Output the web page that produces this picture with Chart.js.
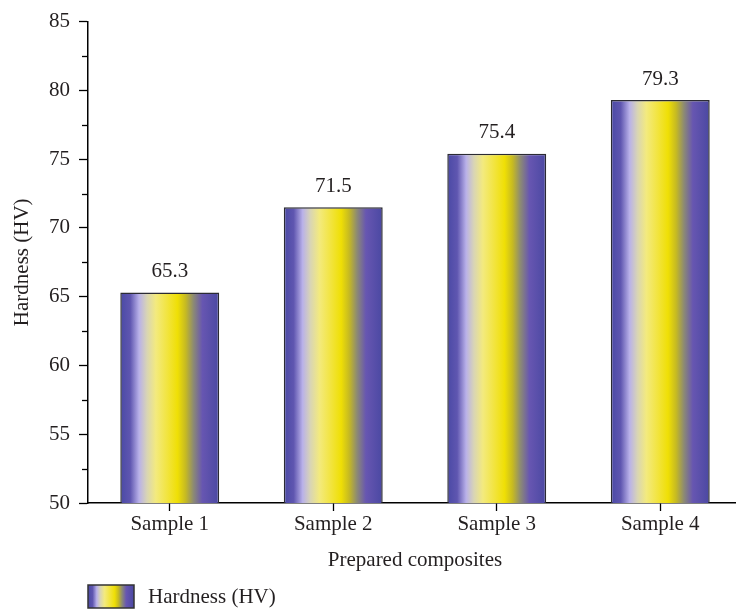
<!DOCTYPE html>
<html>
<head>
<meta charset="utf-8">
<script src="https://cdn.jsdelivr.net/npm/chart.js@4/dist/chart.umd.min.js"></script>
<style>
  html, body { margin: 0; padding: 0; background: #fff; overflow: hidden; }
</style>
</head>
<body>
<canvas id="hardnessChart" width="750" height="612"></canvas>
<script>
// data
var samples = ['Sample 1', 'Sample 2', 'Sample 3', 'Sample 4'];
var hardness = [65.3, 71.5, 75.4, 79.3];
var seriesLabel = 'Hardness (HV)';
var yTicks = [50, 55, 60, 65, 70, 75, 80, 85];

var serif = "'Liberation Serif', 'DejaVu Serif', serif";
var fontSize = 21;
var textColor = '#231f20';
var barPct = 0.605;

// blue -> lavender -> yellow -> olive -> purple, across each bar
var gradStops = [
  [0, '#4a49a5'], [0.1, '#5f56b0'], [0.19, '#b9b1e9'], [0.27, '#d9d5b4'],
  [0.36, '#f3ea7e'], [0.48, '#f2e43c'], [0.58, '#efdf05'], [0.66, '#c6ba22'],
  [0.74, '#8c8a74'], [0.83, '#6756b1'], [1, '#4a48a2']
];

function makeGrad(ctx, x0, x1) {
  var g = ctx.createLinearGradient(x0, 0, x1, 0);
  gradStops.forEach(function (s) { g.addColorStop(s[0], s[1]); });
  return g;
}

var ctx = document.getElementById('hardnessChart').getContext('2d');

var extras = {
  id: 'extras',
  afterDatasetsDraw: function (chart) {
    var c = chart.ctx;
    var meta = chart.getDatasetMeta(0);
    c.save();
    c.font = fontSize + 'px ' + serif;
    c.fillStyle = textColor;
    c.textAlign = 'center';
    c.textBaseline = 'middle';
    meta.data.forEach(function (el, i) {
      c.fillText(hardness[i].toFixed(1), el.x, el.y - 21);
    });
    c.restore();
  },
  afterDraw: function (chart) {
    var c = chart.ctx;
    var y = chart.scales.y;
    var a = chart.chartArea;
    c.save();
    // minor ticks on y
    c.strokeStyle = '#000';
    c.lineWidth = 1.3;
    for (var i = 0; i < yTicks.length - 1; i++) {
      var py = Math.round(y.getPixelForValue((yTicks[i] + yTicks[i + 1]) / 2)) + 0.5;
      c.beginPath();
      c.moveTo(a.left - 6, py);
      c.lineTo(a.left, py);
      c.stroke();
    }
    // legend
    var lx = a.left, ly = chart.height - 27, lw = 46, lh = 23;
    c.fillStyle = makeGrad(c, lx, lx + lw);
    c.fillRect(lx, ly, lw, lh);
    c.strokeStyle = '#333';
    c.lineWidth = 1.5;
    c.strokeRect(lx, ly, lw, lh);
    c.font = fontSize + 'px ' + serif;
    c.fillStyle = textColor;
    c.textAlign = 'left';
    c.textBaseline = 'middle';
    c.fillText(seriesLabel, lx + 60, ly + lh / 2 + 1);
    c.restore();
  }
};

var hardnessChart = new Chart(ctx, {
  type: 'bar',
  data: {
    labels: samples,
    datasets: [{
      label: seriesLabel,
      data: hardness,
      backgroundColor: function (context) {
        var xs = context.chart.scales.x;
        if (!xs || context.type !== 'data') return '#5a52ad';
        var cx = xs.getPixelForValue(context.dataIndex);
        var half = xs.width / samples.length * barPct / 2;
        if (!isFinite(cx) || !isFinite(half)) return '#5a52ad';
        return makeGrad(context.chart.ctx, cx - half, cx + half);
      },
      borderColor: '#2b2b33',
      borderWidth: 1.5,
      borderSkipped: 'bottom',
      categoryPercentage: 1,
      barPercentage: barPct
    }]
  },
  options: {
    responsive: false,
    animation: false,
    layout: { padding: { top: 19, right: 8, left: 0, bottom: 0 } },
    plugins: {
      legend: { display: false },
      tooltip: { enabled: false }
    },
    scales: {
      x: {
        offset: true,
        grid: { offset: false, drawOnChartArea: false, tickLength: 8, tickColor: '#000', tickWidth: 1.3 },
        border: { color: '#000', width: 1.5 },
        ticks: { color: textColor, font: { family: serif, size: fontSize }, padding: 1 },
        title: {
          display: true, text: 'Prepared composites', color: textColor,
          font: { family: serif, size: fontSize }, padding: { top: 0, bottom: 39 }
        },
        afterFit: function (scale) { scale.height = 109; }
      },
      y: {
        min: 50, max: 85,
        afterBuildTicks: function (scale) {
          scale.ticks = yTicks.map(function (v) { return { value: v }; });
        },
        grid: { drawOnChartArea: false, tickLength: 9, tickColor: '#000', tickWidth: 1.3 },
        border: { color: '#000', width: 1.5 },
        ticks: { color: textColor, font: { family: serif, size: fontSize }, padding: 9 },
        title: {
          display: true, text: 'Hardness (HV)', color: textColor,
          font: { family: serif, size: fontSize }, padding: { top: 10, bottom: 0 }
        },
        afterFit: function (scale) { scale.width = 88; }
      }
    }
  },
  plugins: [extras]
});
</script>
</body>
</html>
